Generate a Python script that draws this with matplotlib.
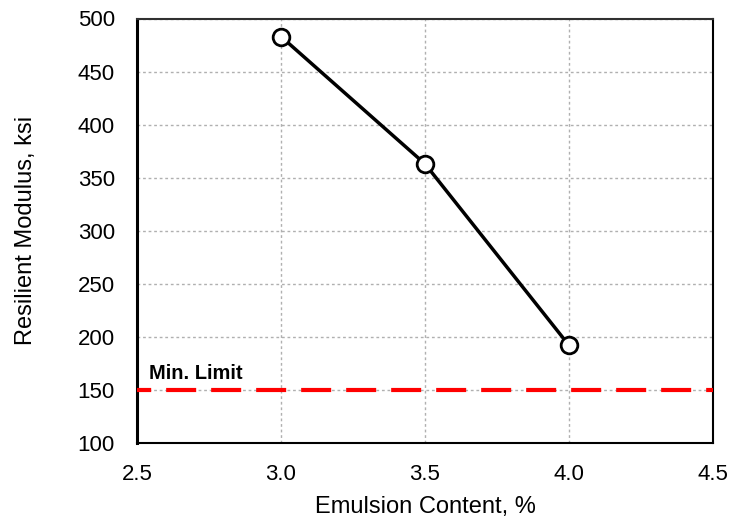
import matplotlib
matplotlib.use("Agg")
import matplotlib.pyplot as plt

plt.rcParams['font.family'] = ['Liberation Sans', 'DejaVu Sans']

emulsion = [3.0, 3.5, 4.0]
modulus = [483, 363, 192]
min_limit = 150
x_ticks = [2.5, 3.0, 3.5, 4.0, 4.5]
y_ticks = [100, 150, 200, 250, 300, 350, 400, 450, 500]

fig = plt.figure(figsize=(7.31, 5.2), dpi=100)
ax = fig.add_axes([137 / 731, 77 / 520, 576 / 731, 424.5 / 520])

# gray dotted grid behind everything
ax.grid(True, color='#b0b0b0', linestyle=(0, (2, 2)), linewidth=1)
ax.set_axisbelow(True)

# minimum limit line
ax.axhline(min_limit, color='#ff0000', linewidth=3, linestyle=(3.8, (7.2, 3.6)), zorder=3)
ax.text(2.54, min_limit + 10.5, 'Min. Limit', fontsize=14.5, fontweight='bold',
        ha='left', va='baseline')

ax.plot(emulsion, modulus, color='black', linewidth=2.5, marker='o', markersize=12,
        markerfacecolor='white', markeredgecolor='black', markeredgewidth=2, zorder=4)

ax.set_xlim(2.5, 4.5)
ax.set_ylim(100, 500)
ax.set_xticks(x_ticks)
ax.set_xticklabels([f'{v:.1f}' for v in x_ticks])
ax.set_yticks(y_ticks)
ax.tick_params(labelsize=16, length=0)
ax.tick_params(axis='x', pad=15)
ax.tick_params(axis='y', pad=16)

ax.set_xlabel('Emulsion Content, %', fontsize=17, labelpad=8)
ax.set_ylabel('Resilient Modulus, ksi', fontsize=17, labelpad=29)

ax.spines['left'].set_linewidth(2.2)
for side in ['right', 'top', 'bottom']:
    ax.spines[side].set_linewidth(1.5)
ax.spines['top'].set_color('#303030')

fig.savefig('out.png', dpi=100)
